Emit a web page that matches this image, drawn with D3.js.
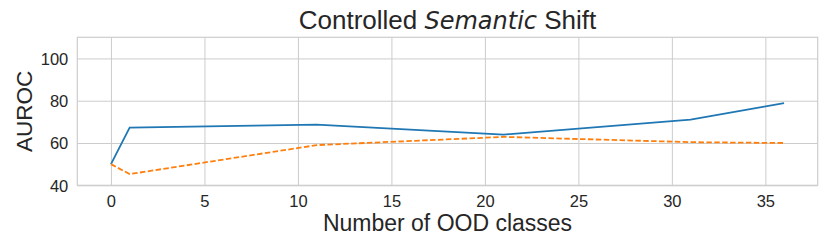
<!DOCTYPE html>
<html>
<head>
<meta charset="utf-8">
<script src="https://cdn.jsdelivr.net/npm/d3@7"></script>
<style>
  body { margin: 0; background: #fff; }
  svg { display: block; }
  text { font-family: "Liberation Sans", Arial, sans-serif; fill: #262626; }
</style>
</head>
<body>
<svg id="chart" width="830" height="249"></svg>
<script>
var oodClasses = [0, 1, 11, 21, 31, 36];
var blueSeries = [50, 67.3, 68.7, 64.0, 71.1, 78.9];
var orangeSeries = [50, 45.3, 59.0, 62.9, 60.4, 60.0];
var xTicks = [0, 5, 10, 15, 20, 25, 30, 35];
var yTicks = [40, 60, 80, 100];

var plotLeft = 77.3, plotRight = 817.7, plotTop = 37.3, plotBottom = 185.3;

var svg = d3.select("#chart");

var xScale = d3.scaleLinear()
	.domain([-1.8, 37.8])
	.range([plotLeft, plotRight]);

var yScale = d3.scaleLinear()
	.domain([40, 110])
	.range([plotBottom, plotTop]);

// grid + tick labels
svg.append("g")
	.attr("transform", "translate(0," + plotBottom + ")")
	.call(d3.axisBottom(xScale).tickValues(xTicks).tickSize(-(plotBottom - plotTop)).tickPadding(10))
	.call(function(g) {
		g.select(".domain").remove();
		g.selectAll(".tick line").attr("stroke", "#cccccc").attr("stroke-width", 1);
		g.selectAll(".tick text").attr("font-size", 16.5).attr("fill", "#262626")
			.style("font-family", "'Liberation Sans', Arial, sans-serif");
	});

svg.append("g")
	.attr("transform", "translate(" + plotLeft + ",0)")
	.call(d3.axisLeft(yScale).tickValues(yTicks).tickSize(-(plotRight - plotLeft)).tickPadding(9))
	.call(function(g) {
		g.select(".domain").remove();
		g.selectAll(".tick line").attr("stroke", "#cccccc").attr("stroke-width", 1);
		g.selectAll(".tick text").attr("font-size", 16.5).attr("fill", "#262626")
			.attr("dy", "0.36em")
			.style("font-family", "'Liberation Sans', Arial, sans-serif");
	});

// frame
svg.append("rect")
	.attr("x", plotLeft)
	.attr("y", plotTop)
	.attr("width", plotRight - plotLeft)
	.attr("height", plotBottom - plotTop)
	.attr("fill", "none")
	.attr("stroke", "#cccccc")
	.attr("stroke-width", 1.2);

var line = d3.line()
	.x(function(d, i) { return xScale(oodClasses[i]); })
	.y(function(d) { return yScale(d); });

svg.append("path")
	.datum(blueSeries)
	.attr("d", line)
	.attr("fill", "none")
	.attr("stroke", "#1f77b4")
	.attr("stroke-width", 1.8);

svg.append("path")
	.datum(orangeSeries)
	.attr("d", line)
	.attr("fill", "none")
	.attr("stroke", "#ff7f0e")
	.attr("stroke-width", 1.8)
	.attr("stroke-dasharray", "5.5,2.4");

// title
var title = svg.append("text")
	.attr("x", (plotLeft + plotRight) / 2)
	.attr("y", 29.3)
	.attr("text-anchor", "middle")
	.attr("font-size", 26);
title.append("tspan").text("Controlled ");
title.append("tspan").text("Semantic")
	.style("font-family", "'DejaVu Sans', sans-serif")
	.style("font-style", "oblique")
	.attr("font-size", 24);
title.append("tspan").text(" Shift");

svg.append("text")
	.attr("x", (plotLeft + plotRight) / 2)
	.attr("y", 231)
	.attr("text-anchor", "middle")
	.attr("font-size", 23)
	.text("Number of OOD classes");

svg.append("text")
	.attr("transform", "translate(32," + ((plotTop + plotBottom) / 2) + ") rotate(-90)")
	.attr("text-anchor", "middle")
	.attr("font-size", 22.5)
	.text("AUROC");
</script>
</body>
</html>
